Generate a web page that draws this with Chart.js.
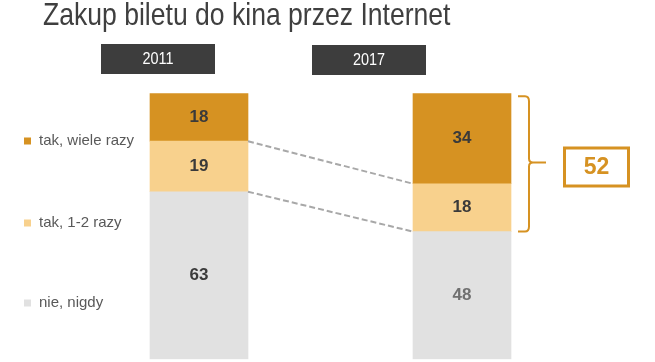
<!DOCTYPE html>
<html>
<head>
<meta charset="utf-8">
<script src="https://cdn.jsdelivr.net/npm/chart.js@4.4.1/dist/chart.umd.min.js"></script>
<style>
  html, body { margin: 0; padding: 0; background: #fff; }
  canvas { display: block; }
</style>
</head>
<body>
<canvas id="wykres" width="655" height="362"></canvas>
<script>
// dane
const lata = ['2011', '2017'];
const nieNigdy = [63, 48];
const tak12 = [19, 18];
const takWiele = [18, 34];

const kolorWiele = '#D69222';
const kolor12 = '#F8D18D';
const kolorNie = '#E1E1E1';
const FONT = "'Liberation Sans', Arial, sans-serif";

// napis sciesniony poziomo (jak Arial Narrow)
function napis(ctx, txt, x, y, font, color, sx, align) {
    ctx.save();
    ctx.font = font;
    ctx.fillStyle = color;
    ctx.textBaseline = 'middle';
    ctx.textAlign = align || 'center';
    ctx.translate(x, y);
    ctx.scale(sx, 1);
    ctx.fillText(txt, 0, 0);
    ctx.restore();
}

const dodatki = {
    id: 'dodatki',
    afterDatasetsDraw(chart) {
        const ctx = chart.ctx;
        const m0 = chart.getDatasetMeta(0).data;
        const m1 = chart.getDatasetMeta(1).data;
        const m2 = chart.getDatasetMeta(2).data;

        // tytul
        napis(ctx, 'Zakup biletu do kina przez Internet', 43, 16, '32px ' + FONT, '#3f3f3f', 0.83, 'left');

        // naglowki lat
        const naglowki = [[101, 44], [312, 45]];
        naglowki.forEach((p, i) => {
            ctx.fillStyle = '#3d3d3d';
            ctx.fillRect(p[0], p[1], 114, 30);
            napis(ctx, lata[i], p[0] + 57, p[1] + 15, '17px ' + FONT, '#ffffff', 0.85);
        });

        // etykiety wartosci
        const zbiory = [[m0, nieNigdy], [m1, tak12], [m2, takWiele]];
        zbiory.forEach((z, di) => {
            z[0].forEach((el, i) => {
                const kol = (di === 0 && i === 1) ? '#707070' : '#3a3a3a';
                napis(ctx, String(z[1][i]), el.x, (el.y + el.base) / 2, 'bold 17px ' + FONT, kol, 1);
            });
        });

        // linie przerywane miedzy slupkami
        ctx.save();
        ctx.strokeStyle = '#a8a8a8';
        ctx.lineWidth = 2;
        ctx.setLineDash([6, 3]);
        [m2, m1].forEach(m => {
            const a = m[0], b = m[1];
            ctx.beginPath();
            ctx.moveTo(a.x + a.width / 2, a.base);
            ctx.lineTo(b.x - b.width / 2, b.base);
            ctx.stroke();
        });
        ctx.restore();

        // klamra przy 2017
        const gora = m2[1].y, dol = m1[1].base;
        const bx = m2[1].x + m2[1].width / 2 + 7;
        const srodek = (gora + dol) / 2;
        ctx.save();
        ctx.strokeStyle = kolorWiele;
        ctx.lineWidth = 2;
        ctx.beginPath();
        ctx.moveTo(bx, gora + 3);
        ctx.lineTo(bx + 7, gora + 3);
        ctx.quadraticCurveTo(bx + 11, gora + 3, bx + 11, gora + 8);
        ctx.lineTo(bx + 11, srodek - 4);
        ctx.quadraticCurveTo(bx + 11, srodek, bx + 15, srodek);
        ctx.lineTo(bx + 28, srodek);
        ctx.moveTo(bx + 15, srodek);
        ctx.quadraticCurveTo(bx + 11, srodek, bx + 11, srodek + 4);
        ctx.lineTo(bx + 11, dol - 5);
        ctx.quadraticCurveTo(bx + 11, dol, bx + 7, dol);
        ctx.lineTo(bx, dol);
        ctx.stroke();

        // ramka z suma
        ctx.lineWidth = 3;
        ctx.strokeRect(564.5, 148, 64, 38);
        ctx.restore();
        napis(ctx, String(takWiele[1] + tak12[1]), 596.5, 167.5, 'bold 23px ' + FONT, kolorWiele, 1);

        // legenda
        const leg = [[2, 141], [1, 223], [0, 303]];
        leg.forEach(l => {
            const ds = chart.data.datasets[l[0]];
            ctx.fillStyle = ds.backgroundColor;
            ctx.fillRect(24, l[1] - 3.5, 7, 7);
            napis(ctx, ds.label, 39, l[1], '15px ' + FONT, '#595959', 1, 'left');
        });
    }
};

new Chart(document.getElementById('wykres'), {
    type: 'bar',
    data: {
        labels: lata,
        datasets: [
            { label: 'nie, nigdy', data: nieNigdy, backgroundColor: kolorNie },
            { label: 'tak, 1-2 razy', data: tak12, backgroundColor: kolor12 },
            { label: 'tak, wiele razy', data: takWiele, backgroundColor: kolorWiele }
        ]
    },
    options: {
        responsive: false,
        animation: false,
        devicePixelRatio: 1,
        layout: { padding: { left: 67.5, right: 61.5, top: 93.3, bottom: 2.7 } },
        datasets: { bar: { barThickness: 98, borderWidth: 0 } },
        scales: {
            x: { stacked: true, display: false },
            y: { stacked: true, display: false, min: 0, max: 100 }
        },
        plugins: {
            legend: { display: false },
            tooltip: { enabled: false }
        }
    },
    plugins: [dodatki]
});
</script>
</body>
</html>
